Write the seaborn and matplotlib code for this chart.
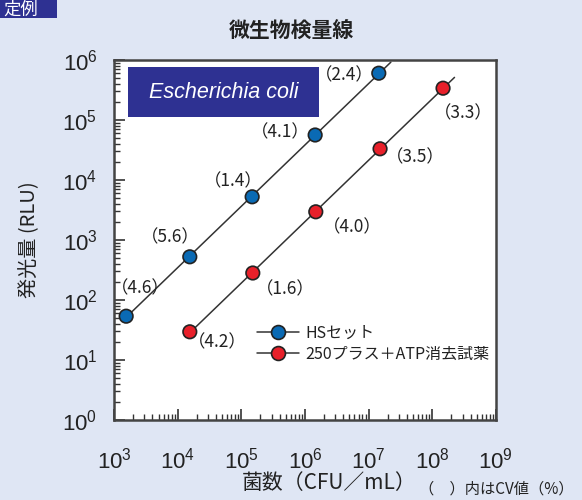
import numpy as np
import pandas as pd
import seaborn as sns
from matplotlib import pyplot as plt
from matplotlib.lines import Line2D
from matplotlib.patches import Rectangle
from matplotlib.ticker import LogLocator, NullFormatter

# data (log10 values)
hs_cfu = [3.19, 4.19, 5.17, 6.16, 7.16]
hs_rlu = [1.73, 2.72, 3.72, 4.75, 5.78]
hs_cv = ['（4.6）', '（5.6）', '（1.4）', '（4.1）', '（2.4）']

atp_cfu = [4.19, 5.18, 6.17, 7.18, 8.17]
atp_rlu = [1.47, 2.45, 3.47, 4.52, 5.53]
atp_cv = ['（4.2）', '（1.6）', '（4.0）', '（3.5）', '（3.3）']

series_names = ['HSセット', '250プラス＋ATP消去試薬']

bg = '#dfe6f4'
navy = '#2e3192'
blue = '#0a6ab4'
red = '#e8202a'

sns.set_style('ticks')
plt.rcParams['font.family'] = ['Noto Sans CJK JP', 'DejaVu Sans']
plt.rcParams['mathtext.fontset'] = 'custom'
plt.rcParams['mathtext.rm'] = 'Liberation Sans'

df = pd.DataFrame({
    'cfu': 10 ** np.array(hs_cfu + atp_cfu),
    'rlu': 10 ** np.array(hs_rlu + atp_rlu),
    'series': [series_names[0]] * 5 + [series_names[1]] * 5,
})

fig = plt.figure(figsize=(5.82, 5.0), dpi=100, facecolor=bg)
ax = fig.add_axes([0.196, 0.16, 0.656, 0.72])
ax.set_facecolor('white')

# regression lines in log space
for xs, ys, x0, x1 in [(hs_cfu, hs_rlu, 3.2, 7.35), (atp_cfu, atp_rlu, 4.17, 8.35)]:
    k, b = np.polyfit(xs, ys, 1)
    lx = np.array([x0, x1])
    ax.plot(10 ** lx, 10 ** (k * lx + b), color='#333333', lw=1.1, zorder=2)

sns.scatterplot(data=df, x='cfu', y='rlu', hue='series', palette=[blue, red],
                s=95, edgecolor='#222222', linewidth=1.2, zorder=3, legend=False, ax=ax)

ax.set_xscale('log')
ax.set_yscale('log')
ax.set_xlim(1e3, 1e9)
ax.set_ylim(1e0, 1e6)

# CV labels
hs_off = [(14, 28), (-20, 19), (-19, 15), (-35, 3), (-35, -2)]
atp_off = [(27, -11), (32, -16), (36, -16), (35, -9), (20, -25)]
for xs, ys, labs, offs in [(hs_cfu, hs_rlu, hs_cv, hs_off), (atp_cfu, atp_rlu, atp_cv, atp_off)]:
    for x, y, lab, off in zip(xs, ys, labs, offs):
        ax.annotate(lab, (10 ** x, 10 ** y), xytext=off, textcoords='offset pixels',
                    ha='center', va='center', fontsize=12.5, color='#222222')

ax.set_xticks([10 ** i for i in range(3, 10)])
ax.set_xticklabels(['$10^{%d}$' % i for i in range(3, 10)])
ax.set_yticks([10 ** i for i in range(0, 7)])
ax.set_yticklabels(['$10^{%d}$' % i for i in range(0, 7)])
ax.xaxis.set_minor_locator(LogLocator(base=10, subs=np.arange(2, 10), numticks=20))
ax.yaxis.set_minor_locator(LogLocator(base=10, subs=np.arange(2, 10), numticks=20))
ax.xaxis.set_minor_formatter(NullFormatter())
ax.yaxis.set_minor_formatter(NullFormatter())
ax.tick_params(axis='both', which='major', direction='in', length=8, width=1.2,
               colors='#333333', labelsize=16, labelcolor='#222222', pad=12)
ax.tick_params(axis='both', which='minor', direction='in', length=4, width=1.0, colors='#333333')
ax.tick_params(axis='x', pad=20)
for sp in ax.spines.values():
    sp.set_visible(True)
    sp.set_color('#444444')
    sp.set_linewidth(1.8)

ax.set_xlabel('')
ax.set_ylabel('発光量 (RLU)', fontsize=14.5, color='#222222', labelpad=16)

# species label box
ax.add_patch(Rectangle((0.037, 0.842), 0.5, 0.139, transform=ax.transAxes,
                       facecolor=navy, edgecolor='none', zorder=4))
ax.text(0.287, 0.911, 'Escherichia coli', transform=ax.transAxes, ha='center', va='center',
        fontsize=15.5, style='italic', color='white', zorder=5,
        family=['Liberation Sans', 'DejaVu Sans'])

# legend
handles = [Line2D([0], [0], color='#333333', lw=1.1, marker='o', markersize=10,
                  markerfacecolor=c, markeredgecolor='#222222', markeredgewidth=1.2)
           for c in [blue, red]]
leg = ax.legend(handles, series_names, loc='lower right', bbox_to_anchor=(1.02, 0.12),
                frameon=False, fontsize=11.5, handlelength=2.6, handletextpad=0.4,
                labelspacing=0.25)
for t in leg.get_texts():
    t.set_color('#222222')

# figure texts
fig.text(0.5, 0.94, '微生物検量線', ha='center', va='center', fontsize=15,
         fontweight='bold', color='#222222')
fig.text(0.565, 0.034, '菌数（CFU／mL）', ha='center', va='center', fontsize=15, color='#222222')
fig.text(0.853, 0.022, '（　）内はCV値（%）', ha='center', va='center', fontsize=11, color='#222222')
fig.patches.append(Rectangle((0, 0.964), 0.098, 0.04, transform=fig.transFigure,
                             facecolor=navy, edgecolor='none', zorder=0))
fig.text(0.006, 0.981, '定例', ha='left', va='center', fontsize=12.5, color='white')

fig.savefig('out.png', dpi=100, facecolor=bg)
